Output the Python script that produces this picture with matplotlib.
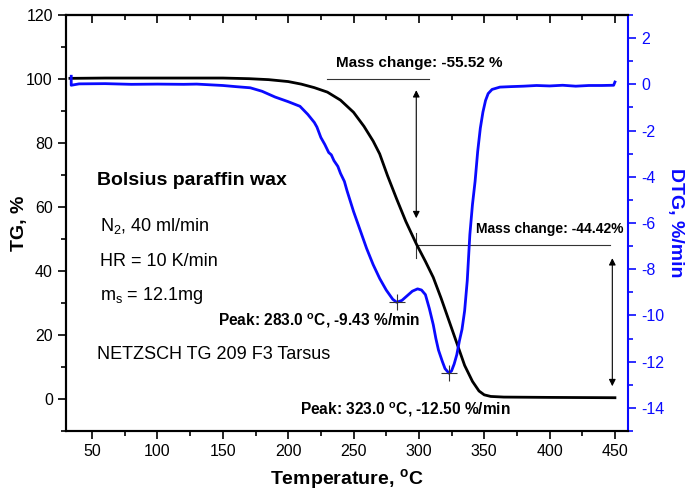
import numpy as np
import matplotlib
matplotlib.use("Agg")
import matplotlib.pyplot as plt
from matplotlib.ticker import MultipleLocator

plt.rcParams['font.family'] = ['Liberation Sans', 'DejaVu Sans']
plt.rcParams['mathtext.fontset'] = 'custom'
plt.rcParams['mathtext.rm'] = 'Liberation Sans'
plt.rcParams['mathtext.bf'] = 'Liberation Sans:bold'
plt.rcParams['axes.unicode_minus'] = False

# TG curve (temperature in C, mass in %)
tg_temp = [33, 60, 100, 150, 170, 185, 200, 210, 220, 230, 240, 250, 258, 265,
           270, 276, 283, 290, 298, 305, 311, 317, 323, 329, 335, 341, 346,
           350, 355, 365, 400, 450]
tg_mass = [100.2, 100.3, 100.3, 100.3, 100.1, 99.8, 99.2, 98.4, 97.3, 95.9,
           93.4, 89.6, 85.2, 80.6, 76.6, 69.8, 62.5, 55.5, 48.5, 43.0, 38.0,
           31.5, 24.5, 17.5, 10.5, 5.5, 2.5, 1.3, 0.8, 0.6, 0.5, 0.4]

# DTG curve (temperature in C, %/min)
dtg_temp = [34, 34, 40, 60, 80, 100, 120, 130, 140, 150, 160, 171, 180, 190,
            200, 209, 215, 220, 222, 225, 228, 231, 233, 235, 238, 240, 243,
            245, 250, 255, 260, 265, 270, 275, 280, 283, 287, 291, 295, 299,
            302, 305, 308, 311, 313, 315, 318, 320, 323, 325, 327, 329, 331,
            333, 335, 337, 339, 341, 343, 345, 347, 349, 351, 353, 356, 362,
            370, 380, 390, 400, 410, 420, 430, 440, 449, 450]
dtg_val = [0.35, -0.04, 0.02, 0.03, 0.0, 0.01, 0.0, 0.01, -0.02, -0.05, -0.1,
           -0.15, -0.3, -0.55, -0.75, -0.95, -1.3, -1.65, -1.85, -2.3, -2.6,
           -2.95, -3.05, -3.3, -3.55, -3.85, -4.2, -4.6, -5.5, -6.3, -7.1,
           -7.8, -8.4, -8.9, -9.3, -9.43, -9.35, -9.15, -8.95, -8.85, -8.9,
           -9.1, -9.7, -10.4, -11.0, -11.5, -12.0, -12.3, -12.5, -12.4, -12.1,
           -11.7, -11.1, -10.6, -9.8, -8.5, -6.5, -5.2, -4.2, -2.9, -1.9, -1.2,
           -0.7, -0.4, -0.22, -0.12, -0.1, -0.08, -0.05, -0.07, -0.04, -0.08,
           -0.05, -0.05, -0.04, 0.1]

peak_temp = [283.0, 323.0]
peak_dtg = [-9.43, -12.50]
mass_step_temp = 298
mass_levels = [100.0, 48.0, 0.4]

blue = '#0a0aff'

fig = plt.figure(figsize=(6.88, 4.91), dpi=100)
ax = fig.add_axes([66 / 688, 1 - 431 / 491, 562 / 688, 416 / 491])
ax2 = ax.twinx()

ax.plot(tg_temp, tg_mass, color='black', lw=2.0, zorder=3)
ax2.plot(dtg_temp, dtg_val, color=blue, lw=2.0)

ax.set_xlim(30, 460)
ax.set_ylim(-10, 120)
ax2.set_ylim(-15, 3)

# axes styling
for s in ax.spines.values():
    s.set_linewidth(1.5)
ax.spines['right'].set_visible(False)
for s in ax2.spines.values():
    s.set_linewidth(1.5)
ax2.spines['right'].set_color(blue)

ax.xaxis.set_major_locator(MultipleLocator(50))
ax.xaxis.set_minor_locator(MultipleLocator(25))
ax.yaxis.set_major_locator(MultipleLocator(20))
ax.yaxis.set_minor_locator(MultipleLocator(10))
ax2.yaxis.set_major_locator(MultipleLocator(2))
ax2.yaxis.set_minor_locator(MultipleLocator(1))

ax.tick_params(which='major', length=6, width=1.2, labelsize=11.5, direction='out')
ax.tick_params(which='minor', length=3.5, width=1.2, direction='out')
ax2.tick_params(which='major', length=6, width=1.2, labelsize=11.5,
                colors=blue, direction='out')
ax2.tick_params(which='minor', length=3.5, width=1.2, colors=blue, direction='out')

top = ax.secondary_xaxis('top')
top.xaxis.set_major_locator(MultipleLocator(50))
top.xaxis.set_minor_locator(MultipleLocator(25))
top.tick_params(which='both', direction='in', labeltop=False, width=1.2)
top.tick_params(which='major', length=6)
top.tick_params(which='minor', length=3.5)
top.spines['top'].set_linewidth(1.5)

ax.set_xlabel('Temperature, $^\\mathbf{o}$C', fontsize=14, fontweight='bold', labelpad=6)
ax.set_ylabel('TG, %', fontsize=14, fontweight='bold', labelpad=-1)
ax2.set_ylabel('DTG, %/min', fontsize=14, fontweight='bold', color=blue,
               rotation=270, labelpad=14)

# mass change annotation
ax.plot([230, 308], [mass_levels[0], mass_levels[0]], color='#333333', lw=0.8)
ax.plot([mass_step_temp, 446], [mass_levels[1], mass_levels[1]], color='#333333', lw=0.8)
ax.plot([mass_step_temp, mass_step_temp], [44, 52], color='#333333', lw=0.8)
arrow = dict(arrowstyle='<|-|>', color='black', lw=0.8, mutation_scale=10,
             shrinkA=0, shrinkB=0)
ax.annotate('', xy=(mass_step_temp, 96.5), xytext=(mass_step_temp, 56.5), arrowprops=arrow)
ax.annotate('', xy=(448, 44), xytext=(448, 4), arrowprops=arrow)
ax.text(300, 105, 'Mass change: -55.52 %', fontsize=11, fontweight='bold',
        ha='center', va='center')
ax.text(400, 53, 'Mass change: -44.42%', fontsize=10, fontweight='bold',
        ha='center', va='center')

# peaks
ax2.plot(peak_temp, peak_dtg, ls='none', marker='+', ms=11, mew=0.8, color='#333333')
ax.text(146, 24.5, 'Peak: 283.0 $^\\mathbf{o}$C, -9.43 %/min', fontsize=11.2,
        fontweight='bold', ha='left', va='center')
ax.text(209, -3.2, 'Peak: 323.0 $^\\mathbf{o}$C, -12.50 %/min', fontsize=11.2,
        fontweight='bold', ha='left', va='center')

# sample info
ax.text(54, 68.3, 'Bolsius paraffin wax', fontsize=14, fontweight='bold', va='center')
ax.text(56, 52.5, 'N$_\\mathregular{2}$, 40 ml/min', fontsize=13, va='baseline')
ax.text(56, 41.7, 'HR = 10 K/min', fontsize=13, va='baseline')
ax.text(56, 30.9, 'm$_\\mathregular{s}$ = 12.1mg', fontsize=13, va='baseline')
ax.text(54, 12.4, 'NETZSCH TG 209 F3 Tarsus', fontsize=13, va='baseline')

fig.savefig('out.png', dpi=100)
